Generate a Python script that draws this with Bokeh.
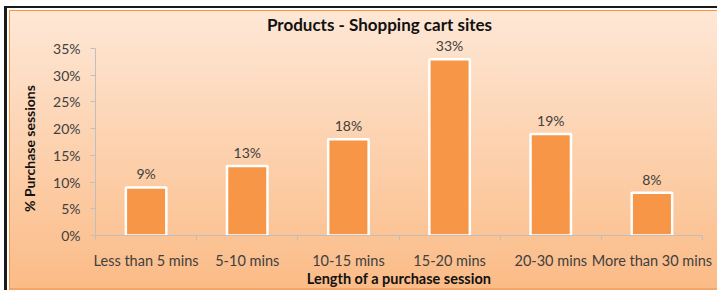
from bokeh.plotting import figure
from bokeh.models import (ColumnDataSource, FixedTicker, LabelSet, Range1d,
                          NumeralTickFormatter, Label)
from bokeh.core.properties import value
from bokeh.embed import file_html
from bokeh.resources import INLINE

categories = ["Less than 5 mins", "5-10 mins", "10-15 mins", "15-20 mins",
              "20-30 mins", "More than 30 mins"]
values = [9, 13, 18, 33, 19, 8]
labels = ["9%", "13%", "18%", "33%", "19%", "8%"]
y_ticks = [0, 5, 10, 15, 20, 25, 30, 35]
y_max = 35
title_text = "Products - Shopping cart sites"
x_title = "Length of a purchase session"
y_title = "% Purchase sessions"

# layout (pixels)
W, H = 717, 290
FRAME_L, FRAME_R, FRAME_T, FRAME_B = 95, 702, 10, 235
Y_TOP_PX = 48            # pixel row of the 35% tick
FONT = "Lato"

px_per_unit = (FRAME_B - Y_TOP_PX) / y_max
y_end = y_max + (Y_TOP_PX - FRAME_T) / px_per_unit
n = len(categories)
px_per_cat = (FRAME_R - FRAME_L) / n

xs = [i + 0.5 for i in range(n)]
src = ColumnDataSource(dict(x=xs, top=values, label=labels))

p = figure(width=W, height=H, output_backend="svg", toolbar_location=None,
           x_range=Range1d(0, n), y_range=Range1d(0, y_end),
           min_border_left=FRAME_L, min_border_right=W - FRAME_R,
           min_border_top=FRAME_T, min_border_bottom=H - FRAME_B)

p.styles = {
    "background": "linear-gradient(to bottom, #FEE9D9 0%, #FBBB86 100%)",
    "box-shadow": ("inset 4px 6px 0 0 #ffffff, inset 7px 8px 0 0 #1a1a1a, "
                   "inset 9px 10px 0 0 #ffffff, inset 10px 11px 0 0 #F79646, "
                   "inset 0 -2px 0 0 #F7A566"),
}
p.background_fill_alpha = 0
p.border_fill_alpha = 0
p.outline_line_color = None
p.grid.visible = False

p.vbar(x="x", top="top", width=0.4, source=src, fill_color="#F79646",
       line_color="white", line_width=2.5)

p.add_layout(LabelSet(x="x", y="top", text="label", source=src,
                      y_offset=5, text_align="center",
                      text_font=value(FONT), text_font_size="14px",
                      text_color="#404040"))

# chart title, placed inside the (tall) frame above the axis bounds
title_cx, title_cy = 379, 24
p.add_layout(Label(x=(title_cx - FRAME_L) / px_per_cat,
                   y=(FRAME_B - title_cy) / px_per_unit,
                   text=title_text, text_align="center", text_baseline="middle",
                   text_font=FONT, text_font_size="17px", text_font_style="bold",
                   text_color="#111111"))

# x axis
xa = p.xaxis[0]
xa.ticker = FixedTicker(ticks=xs, minor_ticks=list(range(n + 1)))
xa.major_label_overrides = {x: c for x, c in zip(xs, categories)}
xa.major_tick_out = 0
xa.major_tick_in = 0
xa.minor_tick_out = 5
xa.minor_tick_in = 0
xa.minor_tick_line_color = "#BFBFBF"
xa.axis_line_color = "#BFBFBF"
xa.major_label_standoff = 11
xa.major_label_text_font = FONT
xa.major_label_text_font_size = "14.5px"
xa.major_label_text_color = "#404040"
xa.axis_label = x_title
xa.axis_label_text_font = FONT
xa.axis_label_text_font_size = "14.5px"
xa.axis_label_text_font_style = "bold"
xa.axis_label_text_color = "#111111"
xa.axis_label_standoff = -2

# y axis
ya = p.yaxis[0]
ya.bounds = (0, y_max)
ya.ticker = FixedTicker(ticks=y_ticks)
ya.formatter = NumeralTickFormatter(format="0")
ya.major_label_overrides = {v: "%d%%" % v for v in y_ticks}
ya.major_tick_out = 5
ya.major_tick_in = 0
ya.minor_tick_out = 0
ya.minor_tick_in = 0
ya.major_tick_line_color = "#BFBFBF"
ya.axis_line_color = "#BFBFBF"
ya.major_label_standoff = 10
ya.major_label_text_font = FONT
ya.major_label_text_font_size = "14px"
ya.major_label_text_color = "#404040"
# trailing no-break spaces shift the centred label down to sit beside the axis bounds
ya.axis_label = y_title + "\u00a0" * 15
ya.axis_label_text_font = FONT
ya.axis_label_text_font_size = "14px"
ya.axis_label_text_font_style = "bold"
ya.axis_label_text_color = "#111111"
ya.axis_label_standoff = 12

open("out.html", "w").write(file_html(p, INLINE))
